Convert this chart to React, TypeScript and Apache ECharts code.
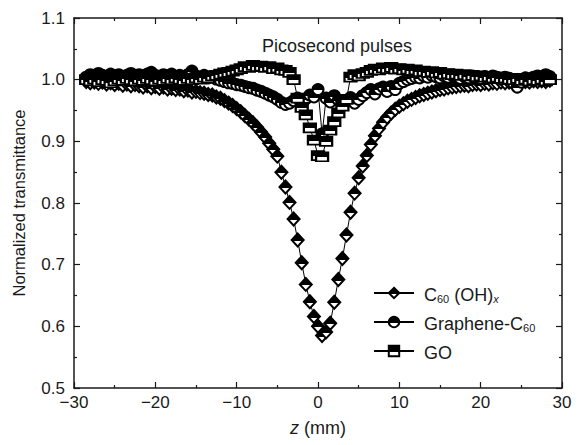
import React, { useEffect, useRef } from 'react';
import * as echarts from 'echarts';

// z positions (mm)
const zValues = [
  -28.5, -28, -27.5, -27, -26.5, -26, -25.5, -25, -24.5, -24,
  -23.5, -23, -22.5, -22, -21.5, -21, -20.5, -20, -19.5, -19,
  -18.5, -18, -17.5, -17, -16.5, -16, -15.5, -15, -14.5, -14,
  -13.5, -13, -12.5, -12, -11.5, -11, -10.5, -10, -9.5, -9,
  -8.5, -8, -7.5, -7, -6.5, -6, -5.5, -5, -4.5, -4,
  -3.5, -3, -2.5, -2, -1.5, -1, -0.5, 0, 0.5, 1,
  1.5, 2, 2.5, 3, 3.5, 4, 4.5, 5, 5.5, 6,
  6.5, 7, 7.5, 8, 8.5, 9, 9.5, 10, 10.5, 11,
  11.5, 12, 12.5, 13, 13.5, 14, 14.5, 15, 15.5, 16,
  16.5, 17, 17.5, 18, 18.5, 19, 19.5, 20, 20.5, 21,
  21.5, 22, 22.5, 23, 23.5, 24, 24.5, 25, 25.5, 26,
  26.5, 27, 27.5, 28, 28.5,
];

// C60(OH)x normalized transmittance
const c60ohValues = [
  0.997, 0.995, 0.996, 0.994, 0.996, 0.993, 0.995, 0.992, 0.994, 0.991,
  0.993, 0.990, 0.992, 0.990, 0.988, 0.990, 0.987, 0.989, 0.986, 0.988,
  0.985, 0.986, 0.984, 0.985, 0.982, 0.983, 0.980, 0.981, 0.979, 0.978,
  0.976, 0.975, 0.972, 0.970, 0.966, 0.962, 0.958, 0.953, 0.948, 0.942,
  0.936, 0.930, 0.923, 0.915, 0.907, 0.897, 0.887, 0.876, 0.850, 0.826,
  0.801, 0.774, 0.740, 0.703, 0.668, 0.640, 0.616, 0.600, 0.585, 0.591,
  0.605, 0.639, 0.676, 0.710, 0.748, 0.785, 0.816, 0.841, 0.860, 0.877,
  0.895, 0.909, 0.921, 0.931, 0.939, 0.946, 0.952, 0.957, 0.961, 0.965,
  0.968, 0.971, 0.974, 0.976, 0.978, 0.980, 0.982, 0.984, 0.985, 0.987,
  0.988, 0.989, 0.990, 0.991, 0.990, 0.992, 0.993, 0.992, 0.994, 0.993,
  0.995, 0.994, 0.996, 0.995, 0.996, 0.995, 0.997, 0.996, 0.997, 0.996,
  0.998, 0.997, 0.998, 0.997, 0.999,
];

// Graphene-C60 normalized transmittance
const grapheneValues = [
  1.004, 1.008, 1.006, 1.010, 1.007, 1.005, 1.009, 1.006, 1.008, 1.004,
  1.007, 1.010, 1.006, 1.008, 1.005, 1.009, 1.012, 1.007, 1.005, 1.008,
  1.006, 1.009, 1.004, 1.007, 1.005, 1.008, 1.014, 1.006, 1.004, 1.007,
  1.003, 1.005, 1.001, 0.999, 0.997, 0.995, 0.994, 0.992, 0.991, 0.989,
  0.987, 0.986, 0.983, 0.981, 0.978, 0.975, 0.972, 0.968, 0.963, 0.960,
  0.962, 0.966, 0.970, 0.964, 0.969, 0.975, 0.972, 0.984, 0.912, 0.970,
  0.964, 0.974, 0.967, 0.960, 0.965, 0.971, 0.962, 0.968, 0.974, 0.979,
  0.984, 0.977, 0.985, 0.988, 0.981, 0.989, 0.984, 0.994, 0.997, 1.000,
  1.002, 1.004, 1.003, 1.006, 1.004, 1.007, 1.005, 1.003, 1.006, 1.004,
  1.007, 1.005, 1.002, 1.005, 1.003, 1.006, 1.004, 1.002, 1.005, 1.003,
  1.006, 1.004, 1.001, 1.004, 1.002, 0.995, 0.988, 0.996, 1.003, 1.001,
  1.004, 1.006, 1.003, 1.008, 1.005,
];

// GO normalized transmittance
const goValues = [
  1.000, 0.998, 1.001, 0.997, 1.000, 0.999, 0.995, 0.998, 1.001, 0.999,
  1.002, 1.000, 0.998, 1.001, 0.999, 1.002, 1.000, 0.998, 1.001, 0.999,
  1.002, 1.000, 1.003, 1.001, 0.999, 1.002, 1.000, 1.003, 1.001, 1.004,
  1.003, 1.006, 1.007, 1.009, 1.011, 1.012, 1.014, 1.016, 1.018, 1.021,
  1.020, 1.023, 1.021, 1.022, 1.020, 1.021, 1.018, 1.019, 1.016, 1.015,
  1.012, 1.000, 0.970, 0.955, 0.943, 0.922, 0.902, 0.877, 0.875, 0.900,
  0.918, 0.932, 0.946, 0.957, 0.968, 1.004, 1.008, 1.006, 1.010, 1.012,
  1.015, 1.017, 1.016, 1.019, 1.018, 1.020, 1.017, 1.018, 1.016, 1.017,
  1.015, 1.016, 1.013, 1.014, 1.012, 1.013, 1.011, 1.012, 1.009, 1.010,
  1.008, 1.009, 1.007, 1.008, 1.006, 1.007, 1.005, 1.006, 1.004, 1.005,
  1.003, 1.004, 1.002, 1.003, 1.001, 1.000, 1.002, 0.999, 1.001, 0.998,
  1.000, 0.999, 1.001, 0.998, 1.000,
];

const seriesNames = ['C60(OH)x', 'Graphene-C60', 'GO'];
const xRange = { min: -30, max: 30, interval: 10 };
const yRange = { min: 0.5, max: 1.1, interval: 0.1 };

const FONT = 'Liberation Sans, Arial, Helvetica, sans-serif';
const INK = '#1a1a1a';

export default function App() {
  const ref = useRef<HTMLDivElement>(null);

  useEffect(() => {
    document.body.style.margin = '0';
    if (!ref.current) return;
    const chart = echarts.init(ref.current, undefined, { renderer: 'svg' });

    const halfFill = () =>
      new echarts.graphic.LinearGradient(0, 0, 0, 1, [
        { offset: 0, color: '#000' },
        { offset: 0.58, color: '#000' },
        { offset: 0.58, color: '#fff' },
        { offset: 1, color: '#fff' },
      ]);

    const axisCommon = {
      type: 'value' as const,
      axisLine: { show: true, onZero: false, lineStyle: { color: INK, width: 1.5 } },
      axisTick: { show: true, inside: true, length: 6, lineStyle: { color: INK, width: 1.2 } },
      minorTick: { show: true, splitNumber: 2, length: 3, lineStyle: { color: INK, width: 1.2 } },
      splitLine: { show: false },
      minorSplitLine: { show: false },
    };

    const makeSeries = (name: string, vals: number[], symbol: string, size: number | number[]) => ({
      name,
      type: 'line' as const,
      data: zValues.map((z, i) => [z, vals[i]]),
      symbol,
      symbolSize: size,
      showAllSymbol: true,
      lineStyle: { color: '#000', width: 1 },
      itemStyle: { color: halfFill(), borderColor: '#000', borderWidth: 2 },
      emphasis: { disabled: true },
    });

    const sub = { fontSize: 11, fontFamily: FONT, color: INK, verticalAlign: 'bottom', lineHeight: 9 };
    const nrm = { fontSize: 18, fontFamily: FONT, color: INK, verticalAlign: 'bottom', lineHeight: 22 };

    chart.setOption({
      animation: false,
      grid: { left: 74, right: 20, top: 18, bottom: 57 },
      title: {
        text: 'Picosecond pulses',
        left: 262,
        top: 37,
        textStyle: { fontSize: 18, fontFamily: FONT, color: INK, fontWeight: 'normal' },
        padding: 0,
      },
      legend: {
        orient: 'vertical',
        left: 373,
        top: 286,
        padding: 0,
        itemWidth: 40,
        itemHeight: 13,
        itemGap: 11,
        data: seriesNames,
        selectedMode: false,
        formatter: (name: string) => {
          if (name === 'C60(OH)x') return '{n|C}{s|60}{n| (OH)}{si|x}';
          if (name === 'Graphene-C60') return '{n|Graphene-C}{s|60}';
          return '{n|GO}';
        },
        textStyle: {
          fontSize: 18,
          fontFamily: FONT,
          color: INK,
          padding: [0, 0, 0, 5],
          rich: { n: nrm, s: sub, si: { ...sub, fontStyle: 'italic' } },
        },
      },
      xAxis: [
        {
          ...axisCommon,
          ...xRange,
          position: 'bottom',
          name: '{i|z} (mm)',
          nameLocation: 'middle',
          nameGap: 31,
          nameTextStyle: {
            fontSize: 18,
            fontFamily: FONT,
            color: INK,
            rich: { i: { fontSize: 18, fontFamily: FONT, color: INK, fontStyle: 'italic' } },
          },
          axisLabel: {
            fontSize: 17,
            fontFamily: FONT,
            color: INK,
            margin: 6,
            formatter: (v: number) => (v < 0 ? '\u2212' + Math.abs(v) : String(v)),
          },
        },
        {
          ...axisCommon,
          ...xRange,
          position: 'top',
          axisLabel: { show: false },
        },
      ],
      yAxis: [
        {
          ...axisCommon,
          ...yRange,
          position: 'left',
          name: 'Normalized transmittance',
          nameLocation: 'middle',
          nameGap: 47,
          nameTextStyle: { fontSize: 16.5, fontFamily: FONT, color: INK },
          axisLabel: {
            fontSize: 17,
            fontFamily: FONT,
            color: INK,
            margin: 9,
            formatter: (v: number) => v.toFixed(1),
          },
        },
        {
          ...axisCommon,
          ...yRange,
          position: 'right',
          axisLabel: { show: false },
        },
      ],
      series: [
        makeSeries(seriesNames[0], c60ohValues, 'diamond', [12, 13]),
        makeSeries(seriesNames[1], grapheneValues, 'circle', 11),
        makeSeries(seriesNames[2], goValues, 'rect', [12, 9]),
      ],
    });

    return () => chart.dispose();
  }, []);

  return <div ref={ref} style={{ width: 582, height: 445 }} />;
}
